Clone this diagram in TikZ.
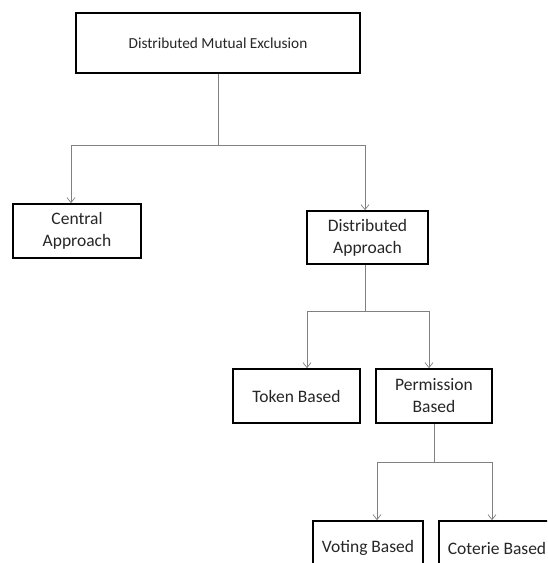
\documentclass[tikz,border=0pt]{standalone}
\usepackage{fontspec}
\setmainfont{Carlito}
\usetikzlibrary{arrows.meta}
\definecolor{connGray}{RGB}{128,128,128}

\tikzset{
  box/.style={draw=black, line width=1.7pt, fill=white, align=center, inner sep=0pt,
    font=\fontsize{17.5}{22}\selectfont, text=black!85},
  conn/.style={draw=connGray, line width=0.9pt},
  arr/.style={conn, -{Straight Barb[length=5pt,width=8pt,line width=0.7pt]}}
}

\begin{document}
\begin{tikzpicture}[x=1pt, y=-1pt]
\path[use as bounding box] (0,0) rectangle (547,563);
\clip (0,0) rectangle (547,563);
% boxes
\node[box, minimum width=284pt, minimum height=60pt, font=\fontsize{15.3}{18}\selectfont] (dme) at (218,43) {Distributed Mutual Exclusion};
\node[box, minimum width=128pt, minimum height=54pt] (central) at (77,231) {Central\\Approach};
\node[box, minimum width=121pt, minimum height=53pt] (distr) at (367.5,237.5) {Distributed\\Approach};
\node[box, minimum width=127pt, minimum height=54pt] (token) at (296.5,396) {Token Based};
\node[box, minimum width=116pt, minimum height=54pt] (perm) at (434,396) {Permission\\Based};
\node[box, minimum width=110pt, minimum height=54pt] (voting) at (368,548) {Voting Based};
% coterie box runs off the right edge
\node[box, minimum width=140pt, minimum height=54pt] (coterie) at (509,548) {\makebox[140pt][l]{\makebox[116pt]{Coterie Based}}};
% connectors
\draw[conn] (dme.south) -- ++(0,72) coordinate (j1);
\draw[arr] (j1) -| ([xshift=-6pt]central.north);
\draw[arr] (j1) -| ([xshift=-2.5pt]distr.north);
\draw[conn] ([xshift=-2.5pt]distr.south) -- ++(0,47) coordinate (j2);
\draw[arr] (j2) -| ([xshift=10.5pt]token.north);
\draw[arr] (j2) -| ([xshift=-5pt]perm.north);
\draw[conn] (perm.south) -- ++(0,39) coordinate (j3);
\draw[arr] (j3) -| ([xshift=9pt]voting.north);
\draw[arr] (j3) -| ([xshift=-17pt]coterie.north);
\end{tikzpicture}
\end{document}
